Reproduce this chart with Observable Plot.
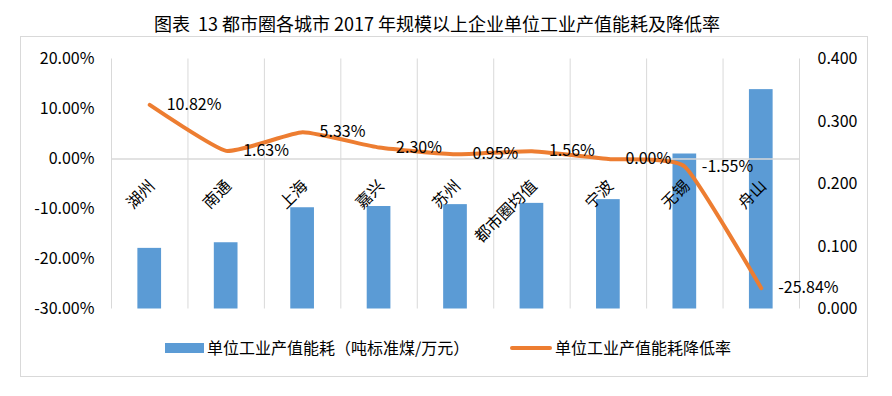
<!DOCTYPE html>
<html><head><meta charset="utf-8">
<script src="https://cdn.jsdelivr.net/npm/d3@7"></script>
<script src="https://cdn.jsdelivr.net/npm/@observablehq/plot@0.6"></script>
<style>
body{margin:0;background:#fff;font-family:"Noto Sans CJK SC","Noto Sans",sans-serif;}
#wrap{position:relative;width:892px;height:396px;overflow:hidden;background:#fff;}
#title{position:absolute;left:0;width:874px;top:10px;text-align:center;font-size:18px;line-height:26px;color:#000;white-space:nowrap;}
#frame{position:absolute;left:20px;top:36px;width:848px;height:341px;box-sizing:border-box;border:1px solid #d9d9d9;}
#chart{position:absolute;left:0;top:36px;}
.lg{position:absolute;font-size:16px;line-height:20px;color:#000;white-space:nowrap;}
</style></head>
<body>
<div id="wrap">
  <div id="frame"></div>
  <div id="title">图表&nbsp; 13 都市圈各城市 2017 年规模以上企业单位工业产值能耗及降低率</div>
  <div id="chart"></div>
  <div id="legend"></div>
</div>
<script>
const cities = ["湖州","南通","上海","嘉兴","苏州","都市圈均值","宁波","无锡","舟山"];
const energy = [0.097,0.106,0.162,0.164,0.167,0.169,0.175,0.248,0.351];
const decline = [10.82,1.63,5.33,2.30,0.95,1.56,0.00,-1.55,-25.84];
const leftTicks = [20,10,0,-10,-20,-30];
const rightTicks = [0,0.1,0.2,0.3,0.4];
const seriesNames = ["单位工业产值能耗（吨标准煤/万元）","单位工业产值能耗降低率"];
const highlighted = "都市圈均值";

const BLUE = "#5B9BD5", ORANGE = "#ED7D31", GRID = "#d9d9d9";
// left axis: percent [-30,20]; right axis: [0,0.4] mapped onto it
const toLeft = v => -30 + v * 125;
const fromLeft = y => (y + 30) / 125;

const data = cities.map((c, i) => ({c, i, energy: energy[i], decline: decline[i]}));
const half = 0.155;

const plot = Plot.plot({
  width: 892, height: 340,
  marginLeft: 111, marginRight: 93, marginTop: 22.5, marginBottom: 67.5,
  style: {fontFamily: '"Noto Sans CJK SC","Noto Sans",sans-serif', fontSize: "16px", color: "#000", background: "transparent", overflow: "visible"},
  x: {type: "linear", domain: [0, cities.length], axis: null},
  y: {domain: [-30, 20], axis: null},
  marks: [
    Plot.ruleX(d3.range(cities.length + 1), {x: d => d, y1: -30, y2: 20, stroke: GRID, strokeWidth: 1}),
    Plot.rectY(data, {x1: d => d.i + 0.5 - half, x2: d => d.i + 0.5 + half, y1: -30, y2: d => toLeft(d.energy), fill: BLUE}),
    Plot.ruleY([0], {x1: 0, x2: cities.length, stroke: GRID, strokeWidth: 1.3}),
    Plot.line(data, {x: d => d.i + 0.5, y: "decline", stroke: ORANGE, strokeWidth: 4, curve: "cardinal", tension: 0.55, strokeLinecap: "round", strokeLinejoin: "round"}),
    Plot.text(data, {x: d => d.i + 0.5, y: "decline", text: d => d.decline.toFixed(2) + "%", textAnchor: "start", dx: 17, dy: 0, fontSize: 16, fill: "#000", ariaLabel: "rate-labels"}),
    Plot.text(data, {x: d => d.i + 0.5, y: 0, text: "c", rotate: -45, textAnchor: "end", lineAnchor: "top", dx: -2, dy: 20, fontSize: 16, fill: "#000"}),
    Plot.axisY({anchor: "left", ticks: leftTicks, tickFormat: d => d.toFixed(2) + "%", tickSize: 0, tickPadding: 17, label: null, fontSize: 16}),
    Plot.axisY({anchor: "right", ticks: rightTicks.map(toLeft), tickFormat: d => fromLeft(d).toFixed(3), tickSize: 0, tickPadding: 18, label: null, fontSize: 16})
  ]
});
document.getElementById("chart").appendChild(plot);

// highlight box around the data label of the metro average
const hiIdx = cities.indexOf(highlighted);
const hiText = decline[hiIdx].toFixed(2) + "%";
plot.querySelectorAll('g[aria-label="rate-labels"] text').forEach(t => {
  if (t.textContent === hiText) {
    const b = t.getBBox();
    const r = document.createElementNS("http://www.w3.org/2000/svg", "rect");
    r.setAttribute("x", b.x - 6); r.setAttribute("y", b.y - 6);
    r.setAttribute("width", b.width + 12); r.setAttribute("height", b.height + 12);
    r.setAttribute("fill", "none"); r.setAttribute("stroke", "#F4B183"); r.setAttribute("stroke-width", 1.5);
    if (t.getAttribute("transform")) r.setAttribute("transform", t.getAttribute("transform"));
    t.parentNode.insertBefore(r, t);
  }
});

// legend
const lg = document.getElementById("legend");
lg.innerHTML = `
  <div style="position:absolute;left:165px;top:343px;width:39px;height:10px;background:${BLUE}"></div>
  <div class="lg" style="left:207px;top:337px">${seriesNames[0]}</div>
  <div style="position:absolute;left:510px;top:346px;width:42px;height:4px;border-radius:2px;background:${ORANGE}"></div>
  <div class="lg" style="left:555px;top:337px">${seriesNames[1]}</div>`;
</script>
</body></html>
